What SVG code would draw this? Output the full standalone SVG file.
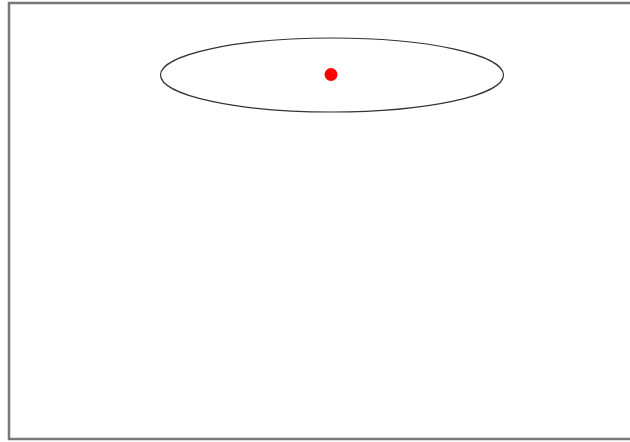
<svg xmlns="http://www.w3.org/2000/svg" width="630" height="442" viewBox="0 0 630 442">
<style>
.frame{fill:none;stroke:#777;stroke-width:2.5}
.oval{fill:none;stroke:#333;stroke-width:1.2}
.dot{fill:#ff0000}
</style>
<rect x="0" y="0" width="630" height="442" fill="#ffffff"/>
<rect class="frame" x="9" y="3" width="640" height="436"/>
<g id="ellipse-node">
<ellipse class="oval" cx="332" cy="75" rx="171.5" ry="37"/>
<circle class="dot" cx="331" cy="74.5" r="6.5"/>
</g>
<g id="connectors"></g>
</svg>
